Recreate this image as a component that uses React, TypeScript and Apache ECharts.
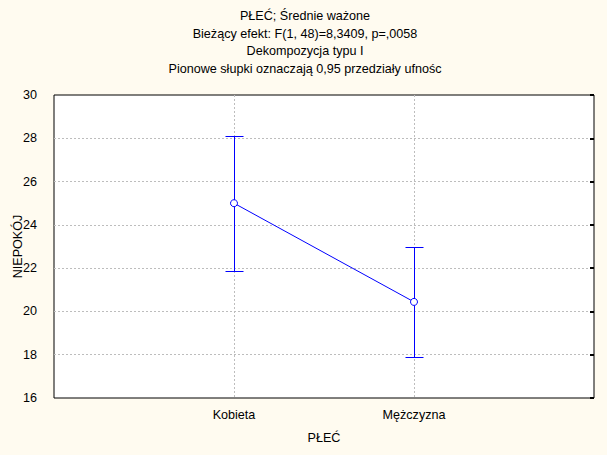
import React, { useEffect, useRef } from "react";
import * as echarts from "echarts";

const categories = ["Kobieta", "Mężczyzna"];
const means = [25.0, 20.44];
const upper = [28.1, 22.98];
const lower = [21.88, 17.9];
const titleLines = [
  "PŁEĆ; Średnie ważone",
  "Bieżący efekt: F(1, 48)=8,3409, p=,0058",
  "Dekompozycja typu I",
  "Pionowe słupki oznaczają 0,95 przedziały ufnośc",
];
const yMin = 16;
const yMax = 30;
const yStep = 2;

const FONT = "Liberation Sans, Arial, sans-serif";
const FS = 12.6;

export default function App() {
  const ref = useRef<HTMLDivElement>(null);
  useEffect(() => {
    if (!ref.current) return;
    const chart = echarts.init(ref.current, null, { renderer: "svg" });
    const blue = "#0000FF";
    const option: any = {
      animation: false,
      backgroundColor: "#FFFBF0",
      textStyle: { fontFamily: FONT, color: "#000" },
      graphic: titleLines.map((t, i) => ({
        type: "text",
        x: 305,
        y: 16 + i * 17.5,
        style: {
          text: t,
          fill: "#000",
          font: `${FS}px ${FONT}`,
          textAlign: "center",
          textVerticalAlign: "middle",
        },
      })),
      grid: {
        left: 54,
        top: 95,
        width: 540,
        height: 303,
        show: true,
        backgroundColor: "#FFFFFF",
        borderColor: "#000",
        borderWidth: 1,
        containLabel: false,
        outerBoundsMode: "none",
      },
      xAxis: {
        type: "value",
        min: 0,
        max: categories.length + 1,
        interval: 1,
        name: "PŁEĆ",
        nameLocation: "middle",
        nameGap: 33,
        nameMoveOverlap: false,
        nameTextStyle: { fontSize: FS, color: "#000", fontFamily: FONT },
        axisLine: { show: false },
        axisTick: { show: false },
        axisLabel: {
          fontSize: FS,
          color: "#000",
          fontFamily: FONT,
          margin: 10,
          formatter: (v: number) => categories[v - 1] || "",
        },
        splitLine: {
          show: true,
          showMinLine: false,
          showMaxLine: false,
          lineStyle: { color: "#BDBDBD", type: [2, 2], width: 1 },
        },
      },
      yAxis: [
        {
          type: "value",
          min: yMin,
          max: yMax,
          interval: yStep,
          name: "NIEPOKÓJ",
          nameLocation: "middle",
          nameGap: 30,
          nameMoveOverlap: false,
          nameTextStyle: { fontSize: FS, color: "#000", fontFamily: FONT },
          axisLine: { show: false },
          axisTick: { show: false },
          axisLabel: { fontSize: FS, color: "#000", fontFamily: FONT, margin: 17 },
          splitLine: {
            show: true,
            showMinLine: false,
            showMaxLine: false,
            lineStyle: { color: "#BDBDBD", type: [2, 2], width: 1 },
          },
        },
        {
          type: "value",
          position: "right",
          min: yMin,
          max: yMax,
          interval: yStep,
          axisLine: { show: false },
          axisTick: { show: true, inside: true, length: 4, lineStyle: { color: "#000", width: 2 } },
          axisLabel: { show: false },
          splitLine: { show: false },
        },
      ],
      series: [
        {
          type: "custom",
          z: 2,
          data: categories.map((_, i) => [i + 1, lower[i], upper[i]]),
          renderItem: (params: any, api: any) => {
            const x = api.value(0);
            const lo = api.coord([x, api.value(1)]);
            const hi = api.coord([x, api.value(2)]);
            const cx = Math.round(lo[0]) + 0.5;
            const yh = Math.round(hi[1]) + 0.5;
            const yl = Math.round(lo[1]) + 0.5;
            const style = { stroke: blue, lineWidth: 1, fill: "none" };
            return {
              type: "group",
              children: [
                { type: "line", shape: { x1: cx, y1: yh, x2: cx, y2: yl }, style },
                { type: "line", shape: { x1: cx - 9, y1: yh, x2: cx + 9, y2: yh }, style },
                { type: "line", shape: { x1: cx - 9, y1: yl, x2: cx + 9, y2: yl }, style },
              ],
            };
          },
        },
        {
          type: "line",
          z: 3,
          data: categories.map((_, i) => [i + 1, means[i]]),
          symbol: "circle",
          symbolSize: 7,
          lineStyle: { color: blue, width: 1 },
          itemStyle: { color: "#FFFFFF", borderColor: blue, borderWidth: 1 },
        },
      ],
    };
    chart.setOption(option);
    return () => chart.dispose();
  }, []);
  return (
    <div
      ref={ref}
      style={{ position: "absolute", left: 0, top: 0, width: 607, height: 455 }}
    />
  );
}
